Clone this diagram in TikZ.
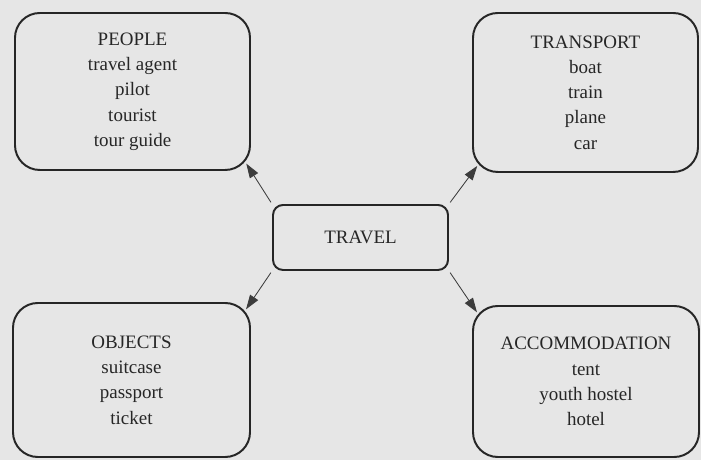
\documentclass[tikz,border=0pt]{standalone}
\usepackage{fontspec}
\setmainfont{Liberation Serif}
\usepackage{tikz}
\usepackage{xcolor}
\usetikzlibrary{arrows.meta}
\definecolor{paper}{HTML}{E6E6E6}
\definecolor{ink}{HTML}{262626}
\tikzset{
    topic-box/.style = {draw=ink, fill=paper, line width=1.4pt, rectangle, rounded corners=0.62cm, align=center, text=ink, font=\fontsize{13.5}{18}\selectfont},
    centre-box/.style = {draw=ink, fill=paper, line width=1.4pt, rectangle, rounded corners=0.25cm, text=ink, font=\fontsize{13.5}{18}\selectfont},
    link-arrow/.style = {draw=ink!90, line width=0.6pt, -{Triangle[length=0.36cm,width=0.24cm]}, shorten <=0.05cm, shorten >=-0.22cm},
}

\begin{document}
\begin{tikzpicture}
\fill[paper] (0,0) rectangle (17.525,11.5);
\useasboundingbox (0,0) rectangle (17.525,11.5);

\node [centre-box, minimum width=4.375cm, minimum height=1.625cm] (travel) at (9.0125,5.5625) {TRAVEL};

\node [topic-box, minimum width=5.875cm, minimum height=3.925cm] (people) at (3.3125,9.2125)
    {PEOPLE\\ travel agent\\ pilot\\ tourist\\ tour guide};
\node [topic-box, minimum width=5.625cm, minimum height=3.975cm] (transport) at (14.6375,9.1875)
    {TRANSPORT\\ boat\\ train\\ plane\\ car};
\node [topic-box, minimum width=5.925cm, minimum height=3.85cm] (objects) at (3.2875,2.0)
    {OBJECTS\\ suitcase\\ passport\\ ticket};
\node [topic-box, minimum width=5.65cm, minimum height=3.775cm] (accommodation) at (14.65,1.9625)
    {ACCOMMODATION\\ tent\\ youth hostel\\ hotel};

\draw [link-arrow] (travel.north west) -- (people.south east);
\draw [link-arrow] (travel.north east) -- (transport.south west);
\draw [link-arrow] (travel.south west) -- (objects.north east);
\draw [link-arrow] (travel.south east) -- (accommodation.north west);
\end{tikzpicture}
\end{document}
